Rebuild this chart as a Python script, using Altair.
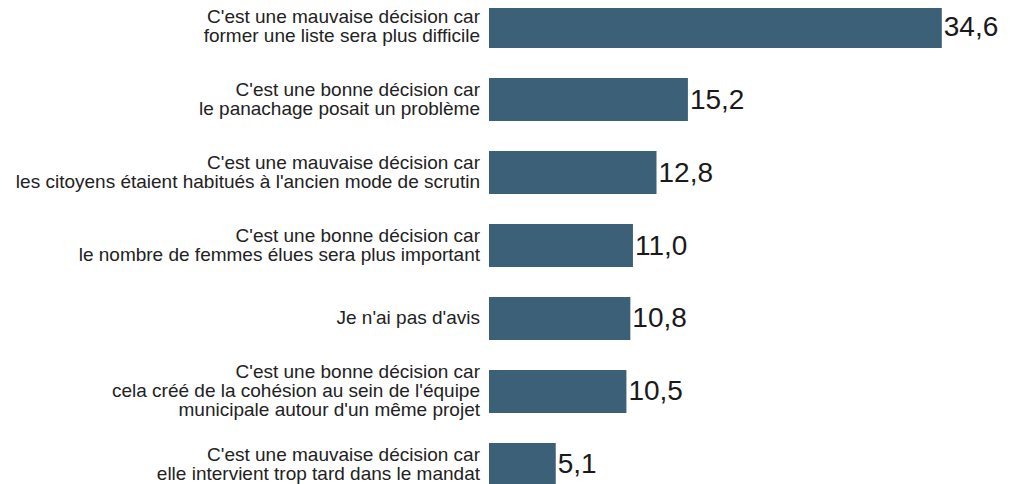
import altair as alt
import pandas as pd

categories = [
    "C'est une mauvaise décision car\nformer une liste sera plus difficile",
    "C'est une bonne décision car\nle panachage posait un problème ",
    "C'est une mauvaise décision car\nles citoyens étaient habitués à l'ancien mode de scrutin",
    "C'est une bonne décision car\nle nombre de femmes élues sera plus important",
    "Je n'ai pas d'avis",
    "C'est une bonne décision car\ncela créé de la cohésion au sein de l'équipe\nmunicipale autour d'un même projet",
    "C'est une mauvaise décision car\nelle intervient trop tard dans le mandat",
]
values = [34.6, 15.2, 12.8, 11.0, 10.8, 10.5, 5.1]
value_labels = ["34,6", "15,2", "12,8", "11,0", "10,8", "10,5", "5,1"]

df = pd.DataFrame({"cat": categories, "val": values, "lab": value_labels})
df["nlines"] = [c.count("\n") + 1 for c in categories]

LH = 19

y = alt.Y("cat:N", sort=None, axis=None,
          scale=alt.Scale(paddingInner=0.41, paddingOuter=0))
x = alt.X("val:Q", axis=None,
          scale=alt.Scale(domain=[0, 39.2], nice=False, zero=True))

base = alt.Chart(df)

bars = base.mark_bar(color="#3d6079").encode(x=x, y=y)

vals = base.mark_text(
    align="left", baseline="middle", dx=2, dy=1, fontSize=28,
    font="Liberation Sans", color="#1a1a1a"
).encode(x=x, y=y, text="lab:N")

layers = [bars, vals]
for n in (1, 2, 3):
    layers.append(
        base.transform_filter(alt.datum.nlines == n).mark_text(
            align="right", baseline="middle", lineBreak="\n", fontSize=19,
            lineHeight=LH, dy=-(n - 1) * LH / 2,
            font="Liberation Sans", color="#222222"
        ).encode(x=alt.value(-9), y=y, text="cat:N")
    )

chart = alt.layer(*layers).properties(
    width=513,
    height=481,
    padding={"left": 481, "top": -3, "right": 0, "bottom": -2},
    autosize=alt.AutoSizeParams(type="none"),
).configure_view(stroke=None)

chart.save("out.html", embed_options={"renderer": "svg", "actions": False})
